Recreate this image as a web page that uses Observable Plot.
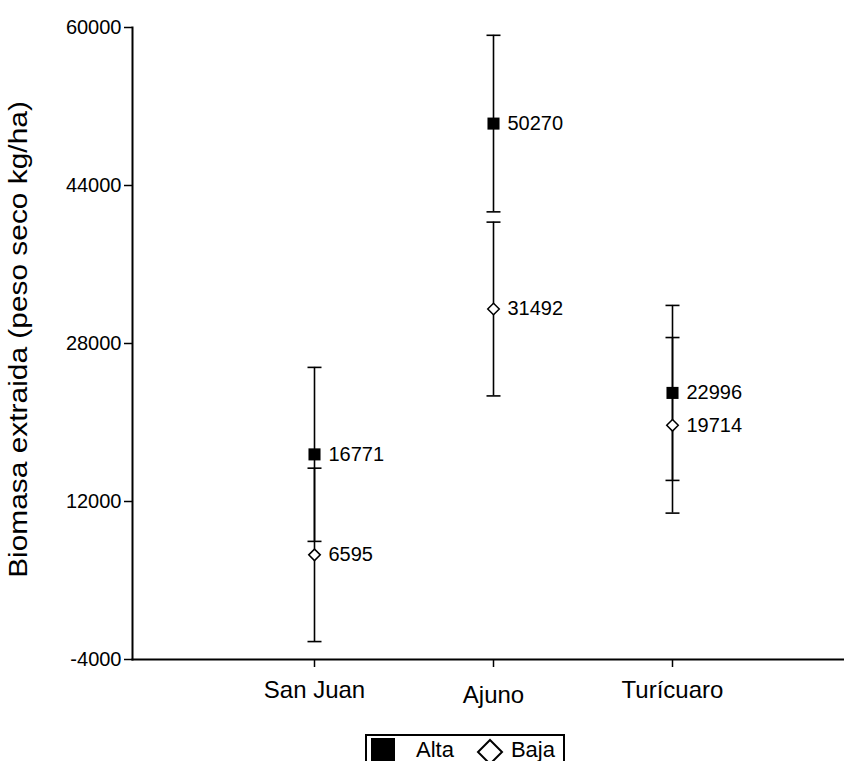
<!DOCTYPE html>
<html>
<head>
<meta charset="utf-8">
<script src="https://cdn.jsdelivr.net/npm/d3@7"></script>
<script src="https://cdn.jsdelivr.net/npm/@observablehq/plot@0.6"></script>
<style>
  html, body { margin: 0; padding: 0; background: #fff; }
  body { width: 844px; height: 761px; overflow: hidden; font-family: "Liberation Sans", Arial, sans-serif; }
  #legend { margin-left: 365px; margin-top: 9px; display: inline-flex; align-items: flex-start;
            border: 2px solid #000; height: 30px; padding: 2px 8px 0 4px; font-size: 22px; color: #000; line-height: 22px; }
  #legend .sq { width: 24px; height: 28px; background: #000; margin-right: 21px; }
  #legend .lab { margin-right: 22px; margin-top: 1px; }
  #legend .lab2 { margin-top: 1px; }
  #legend svg { margin-right: 7px; }
</style>
</head>
<body>
<div id="chart"></div>
<script>
const sites = ["San Juan", "Ajuno", "Turícuaro"];
const groups = ["Alta", "Baja"];
const altaMean = [16771, 50270, 22996];
const altaErr = [8810, 8940, 8860];
const bajaMean = [6595, 31492, 19714];
const bajaErr = [8780, 8800, 8890];
const yTicks = [-4000, 12000, 28000, 44000, 60000];
const yTitle = "Biomasa extraida (peso seco kg/ha)";

const rows = [];
sites.forEach((s, i) => {
  rows.push({site: s, group: groups[0], mean: altaMean[i], lo: altaMean[i] - altaErr[i], hi: altaMean[i] + altaErr[i]});
  rows.push({site: s, group: groups[1], mean: bajaMean[i], lo: bajaMean[i] - bajaErr[i], hi: bajaMean[i] + bajaErr[i]});
});
const alta = rows.filter(d => d.group === groups[0]);
const baja = rows.filter(d => d.group === groups[1]);

const cap = {draw(ctx, size) { const w = Math.sqrt(size / Math.PI); ctx.moveTo(-w, 0); ctx.lineTo(w, 0); }};

const chart = Plot.plot({
  width: 844, height: 725,
  marginLeft: 132, marginRight: 0, marginTop: 27, marginBottom: 66,
  style: {fontFamily: '"Liberation Sans", Arial, sans-serif', color: "black", background: "white"},
  x: {type: "point", domain: sites, range: [313, 672], padding: 0, label: null},
  y: {domain: [-4000, 60000], label: null},
  marks: [
    Plot.axisY({ticks: yTicks, tickSize: 8, tickPadding: 3, tickFormat: d => String(d), fontSize: 20, strokeWidth: 1.5}),
    Plot.axisX({tickSize: 8, tickPadding: 13, fontSize: 24, strokeWidth: 1.5, className: "xaxis"}),
    Plot.frame({anchor: "left", strokeWidth: 2}),
    Plot.frame({anchor: "bottom", strokeWidth: 2}),
    Plot.text([yTitle], {frameAnchor: "left", rotate: -90, dx: -114, dy: -4, textAnchor: "middle", fontSize: 26, text: d => d, className: "ytitle"}),
    Plot.ruleX(rows, {x: "site", y1: "lo", y2: "hi", stroke: "black", strokeWidth: 1.6}),
    Plot.dot(rows, {x: "site", y: "lo", symbol: cap, r: 7, fill: "none", stroke: "black", strokeWidth: 1.6}),
    Plot.dot(rows, {x: "site", y: "hi", symbol: cap, r: 7, fill: "none", stroke: "black", strokeWidth: 1.6}),
    Plot.dot(alta, {x: "site", y: "mean", symbol: "square", r: 6.8, fill: "black", stroke: "none"}),
    Plot.dot(baja, {x: "site", y: "mean", symbol: "diamond2", r: 5.2, fill: "white", stroke: "black", strokeWidth: 1.5}),
    Plot.text(rows, {x: "site", y: "mean", text: d => String(d.mean), dx: 14, textAnchor: "start", fontSize: 20})
  ]
});
// stretch the rotated axis title along its length to match the reference
d3.select(chart).selectAll("g.ytitle text").attr("transform", function() {
  return d3.select(this).attr("transform") + " scale(1.15,1)";
});
// the reference centres category labels with descenders a little lower
d3.select(chart).selectAll("g.xaxis text").each(function() {
  const t = d3.select(this);
  if (/[gjpqy]/.test(t.text())) t.attr("transform", (t.attr("transform") || "") + " translate(0,5)");
});
document.getElementById("chart").appendChild(chart);

const leg = document.createElement("div");
leg.id = "legend";
leg.innerHTML = `<div class="sq"></div><span class="lab">${groups[0]}</span>` +
  `<svg width="28" height="28" viewBox="0 0 28 28"><polygon points="14,2 26,14 14,26 2,14" fill="white" stroke="black" stroke-width="2"/></svg>` +
  `<span class="lab2">${groups[1]}</span>`;
document.body.appendChild(leg);
</script>
</body>
</html>
